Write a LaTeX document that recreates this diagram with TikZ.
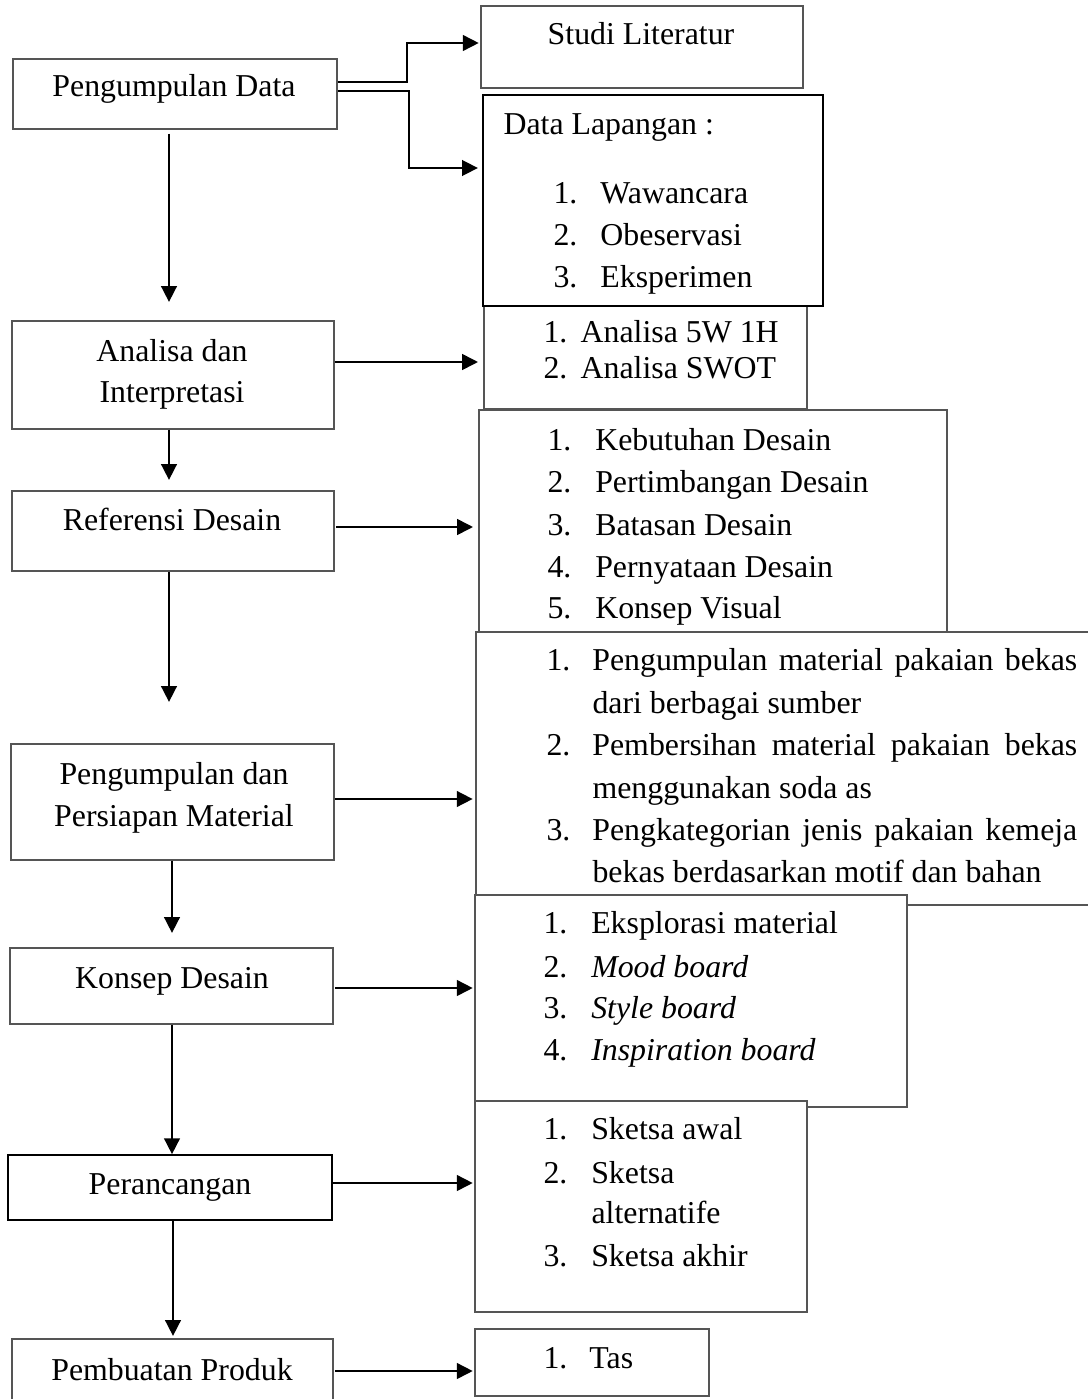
\documentclass[tikz,border=0pt]{standalone}
\usepackage{fontspec}
\setmainfont{Liberation Serif}
\usetikzlibrary{arrows.meta,fit}
\definecolor{bord}{RGB}{85,85,85}
\newcommand\lnum[2]{\makebox[#1][l]{#2}}
\begin{document}
\begin{tikzpicture}[x=0.377pt,y=-0.377pt,
  box/.style={draw=bord, line width=0.45pt, fill=white, inner sep=0pt},
  boxk/.style={draw=black, line width=0.8pt, fill=white, inner sep=0pt},
  txt/.style={anchor=base west, inner sep=0pt, font=\fontsize{12}{14}\selectfont},
  ctxt/.style={anchor=base, inner sep=0pt, font=\fontsize{12}{14}\selectfont},
  arr/.style={line width=1.1pt, -{Triangle[length=6pt,width=5.8pt]}}]
\useasboundingbox (0,0) rectangle (1087,1399);

% left boxes
\node[box, fit={(13,59) (337,129)}] (pd) {};
\node[box, fit={(12,321) (334,429)}] (ana) {};
\node[box, fit={(12,491) (334,571)}] (ref) {};
\node[box, fit={(11,744) (334,860)}] (mat) {};
\node[box, fit={(10,948) (333,1024)}] (kon) {};
\node[boxk, line width=0.55pt, fit={(8,1155) (332,1220)}] (per) {};
\node[box, fit={(12,1339) (333,1420)}] (pem) {};

% right boxes
\node[box, fit={(481,6) (803,88)}] (sl) {};
\node[box, fit={(484,305) (807,409)}] (an2) {};
\node[boxk, fit={(483,95) (823,306)}] (dl) {};
\node[box, fit={(479,410) (947,632)}] (keb) {};
\node[box, fit={(476,632) (1110,905)}] (ml) {};
\node[box, fit={(475,895) (907,1107)}] (eks) {};
\node[box, fit={(475,1101) (807,1312)}] (sk) {};
\node[box, fit={(475,1329) (709,1396)}] (tas) {};

% left texts
\node[ctxt] (tpd) at (174,97) {Pengumpulan Data};
\node[ctxt] (tana1) at (172,361) {Analisa dan};
\node[ctxt] (tana2) at (172,402) {Interpretasi};
\node[ctxt] (tref) at (172,530) {Referensi Desain};
\node[ctxt] (tmat1) at (174,784) {Pengumpulan dan};
\node[ctxt] (tmat2) at (174,826) {Persiapan Material};
\node[ctxt] (tkon) at (172,988) {Konsep Desain};
\node[ctxt] (tper) at (170,1194) {Perancangan};
\node[ctxt] (tpem) at (172,1380) {Pembuatan Produk};

% right texts
\node[ctxt] (tsl) at (641,45) {Studi Literatur};
\node[txt] (tdl) at (503,135) {Data Lapangan :};
\node[txt] (dl1) at (553,203) {\lnum{17.7pt}{1.}Wawancara};
\node[txt] (dl2) at (553,245) {\lnum{17.7pt}{2.}Obeservasi};
\node[txt] (dl3) at (553,287) {\lnum{17.7pt}{3.}Eksperimen};

\node[txt] (an1) at (543,342) {\lnum{14pt}{1.}Analisa 5W 1H};
\node[txt] (an3) at (543,378) {\lnum{14pt}{2.}Analisa SWOT};

\node[txt] (kb1) at (547,450) {\lnum{18pt}{1.}Kebutuhan Desain};
\node[txt] (kb2) at (547,492) {\lnum{18pt}{2.}Pertimbangan Desain};
\node[txt] (kb3) at (547,535) {\lnum{18pt}{3.}Batasan Desain};
\node[txt] (kb4) at (547,577) {\lnum{18pt}{4.}Pernyataan Desain};
\node[txt] (kb5) at (547,618) {\lnum{18pt}{5.}Konsep Visual};

\node[txt] (ml1) at (546,670) {\lnum{17.3pt}{1.}\makebox[182.8pt][s]{Pengumpulan material pakaian bekas}};
\node[txt] (ml1b) at (592,713) {dari berbagai sumber};
\node[txt] (ml2) at (546,755) {\lnum{17.3pt}{2.}\makebox[182.8pt][s]{Pembersihan material pakaian bekas}};
\node[txt] (ml2b) at (592,798) {menggunakan soda as};
\node[txt] (ml3) at (546,840) {\lnum{17.3pt}{3.}\makebox[182.8pt][s]{Pengkategorian jenis pakaian kemeja}};
\node[txt] (ml3b) at (592,882) {bekas berdasarkan motif dan bahan};

\node[txt] (ek1) at (543,933) {\lnum{18pt}{1.}Eksplorasi material};
\node[txt] (ek2) at (543,977) {\lnum{18pt}{2.}\textit{Mood board}};
\node[txt] (ek3) at (543,1018) {\lnum{18pt}{3.}\textit{Style board}};
\node[txt] (ek4) at (543,1060) {\lnum{18pt}{4.}\textit{Inspiration board}};

\node[txt] (sk1) at (543,1139) {\lnum{18pt}{1.}Sketsa awal};
\node[txt] (sk2) at (543,1183) {\lnum{18pt}{2.}Sketsa};
\node[txt] (sk2b) at (591,1223) {alternatife};
\node[txt] (sk3) at (543,1266) {\lnum{18pt}{3.}Sketsa akhir};

\node[txt] (ts1) at (543,1368) {\lnum{17.3pt}{1.}Tas};

% arrow tips (free ends)
\coordinate (d1) at (169,302);
\coordinate (d2) at (169,480);
\coordinate (d3) at (169,702);
\coordinate (d4) at (172,933);
\coordinate (d5) at (173,1336);

% vertical connectors
\draw[arr] (pd.south -| d1) ++(0,4) -- (d1);
\draw[arr] (ana.south -| d2) -- (d2);
\draw[arr] (ref.south -| d3) -- (d3);
\draw[arr] (mat.south -| d4) -- (d4);
\draw[arr] (kon.south -| 172,0) -- (per.north -| 172,0);
\draw[arr] (per.south -| d5) -- (d5);

% horizontal connectors
\draw[arr] (pd.east |- 0,82) -- (407,82) |- ([xshift=-0.6pt]sl.west |- 0,43);
\draw[arr] (pd.east |- 0,91) -- (409,91) |- ([xshift=-1.5pt]dl.west |- 0,168);
\draw[arr] (ana.east |- 0,362) -- ([xshift=-2pt]an2.west |- 0,362);
\draw[arr] ([xshift=0.6pt]ref.east |- 0,527) -- ([xshift=-2pt]keb.west |- 0,527);
\draw[arr] (mat.east |- 0,799) -- ([xshift=-1pt]ml.west |- 0,799);
\draw[arr] ([xshift=0.6pt]kon.east |- 0,988) -- ([xshift=-0.6pt]eks.west |- 0,988);
\draw[arr] (per.east |- 0,1183) -- ([xshift=-0.6pt]sk.west |- 0,1183);
\draw[arr] ([xshift=0.6pt]pem.east |- 0,1371) -- ([xshift=-0.6pt]tas.west |- 0,1371);
\end{tikzpicture}
\end{document}
